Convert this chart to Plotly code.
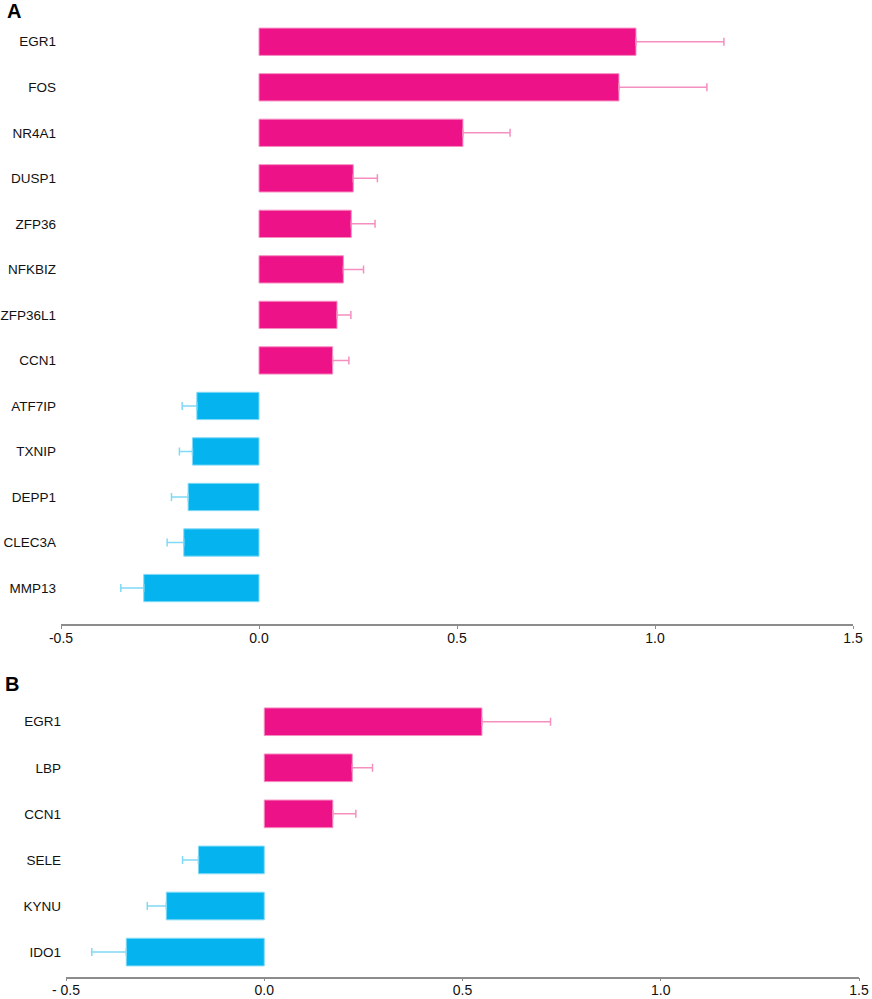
import plotly.graph_objects as go

# panel A
genes_a = ["EGR1", "FOS", "NR4A1", "DUSP1", "ZFP36", "NFKBIZ", "ZFP36L1", "CCN1",
           "ATF7IP", "TXNIP", "DEPP1", "CLEC3A", "MMP13"]
vals_a = [0.952, 0.909, 0.515, 0.238, 0.233, 0.213, 0.197, 0.186,
          -0.157, -0.168, -0.179, -0.190, -0.291]
err_a = [0.222, 0.222, 0.119, 0.061, 0.060, 0.051, 0.035, 0.041,
         0.037, 0.033, 0.042, 0.042, 0.058]

# panel B
genes_b = ["EGR1", "LBP", "CCN1", "SELE", "KYNU", "IDO1"]
vals_b = [0.549, 0.222, 0.173, -0.166, -0.247, -0.348]
err_b = [0.173, 0.051, 0.058, 0.040, 0.048, 0.087]

tick_vals = [-0.5, 0.0, 0.5, 1.0, 1.5]
tick_text_a = ["-0.5", "0.0", "0.5", "1.0", "1.5"]
tick_text_b = ["- 0.5", "0.0", "0.5", "1.0", "1.5"]

PINK = "#EE1289"
PINK_ERR = "#F58FC0"
BLUE = "#05B3EE"
BLUE_ERR = "#80D9F6"
FONT = "Liberation Sans, Arial, sans-serif"


def add_panel(fig, genes, vals, errs, xaxis, yaxis):
    up = [(g, v, e) for g, v, e in zip(genes, vals, errs) if v >= 0]
    down = [(g, v, e) for g, v, e in zip(genes, vals, errs) if v < 0]
    for rows, col, ecol, pos in [(up, PINK, PINK_ERR, True), (down, BLUE, BLUE_ERR, False)]:
        g = [r[0] for r in rows]
        v = [r[1] for r in rows]
        e = [r[2] for r in rows]
        zero = [0] * len(e)
        fig.add_trace(go.Bar(
            x=v, y=g, orientation="h", xaxis=xaxis, yaxis=yaxis,
            marker=dict(color=col, line=dict(color=ecol, width=1)),
            width=0.6,
            error_x=dict(type="data", symmetric=False,
                         array=e if pos else zero,
                         arrayminus=zero if pos else e,
                         color=ecol, thickness=1.5, width=4),
            showlegend=False,
        ))


fig = go.Figure()
add_panel(fig, genes_a, vals_a, err_a, "x", "y")
add_panel(fig, genes_b, vals_b, err_b, "x2", "y2")

xcommon = dict(range=[-0.5, 1.5], tickvals=tick_vals, showline=True, linecolor="#8c8c8c",
               linewidth=1.5, ticks="outside", ticklen=3, tickcolor="#8c8c8c",
               ticklabelstandoff=-3,
               showgrid=False, zeroline=False, automargin=False,
               tickfont=dict(family=FONT, size=14, color="#111111"))
ycommon = dict(type="category", showline=False, ticks="", showgrid=False, zeroline=False,
               automargin=False, ticklabelstandoff=4,
               tickfont=dict(family=FONT, size=13.5, color="#111111"))

H = 999.0
W = 872.0
fig.update_layout(
    width=872, height=999,
    margin=dict(l=0, r=0, t=0, b=0),
    plot_bgcolor="white", paper_bgcolor="white",
    bargap=0.4,
    xaxis=dict(xcommon, domain=[61 / W, 853 / W], anchor="y", ticktext=tick_text_a),
    yaxis=dict(ycommon, domain=[(H - 624) / H, (H - 19) / H], anchor="x",
               categoryarray=genes_a[::-1], categoryorder="array", range=[-0.79, 12.5]),
    xaxis2=dict(xcommon, domain=[66 / W, 859 / W], anchor="y2", ticktext=tick_text_b),
    yaxis2=dict(ycommon, domain=[(H - 976.5) / H, (H - 698.7) / H], anchor="x2",
                categoryarray=genes_b[::-1], categoryorder="array", range=[-0.53, 5.5]),
    annotations=[
        dict(text="<b>A</b>", x=5 / W, y=1 + 2 / H, xref="paper", yref="paper",
             xanchor="left", yanchor="top", showarrow=False,
             font=dict(family=FONT, size=20, color="black")),
        dict(text="<b>B</b>", x=3 / W, y=1 - 671 / H, xref="paper", yref="paper",
             xanchor="left", yanchor="top", showarrow=False,
             font=dict(family=FONT, size=20, color="black")),
    ],
)

fig.write_html("out.html", config={"displayModeBar": False},
               post_script="document.body.style.margin='0';")
